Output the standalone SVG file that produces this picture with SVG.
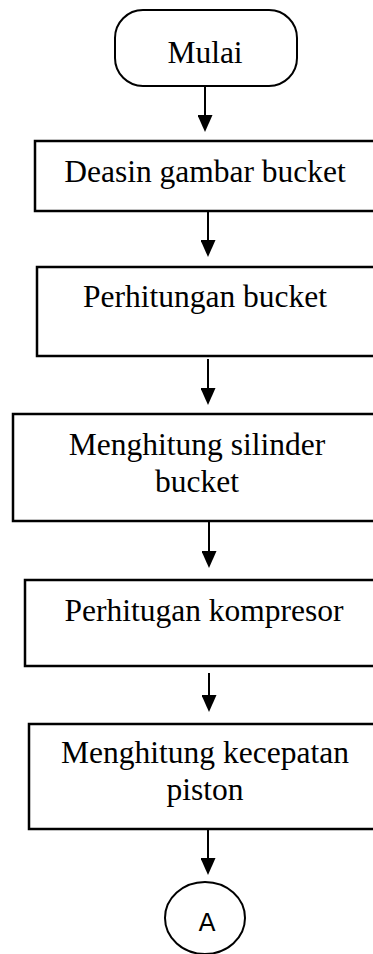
<svg xmlns="http://www.w3.org/2000/svg" width="373" height="954" viewBox="0 0 373 954">
  <style>
    .box { fill: #fff; stroke: #000; stroke-width: 2.5; }
    .term { fill: #fff; stroke: #000; stroke-width: 2; }
    .lbl { font-family: "Liberation Serif", "Times New Roman", serif; font-size: 31.5px; fill: #000; text-anchor: middle; }
    .conn { fill: #fff; stroke: #000; stroke-width: 2; }
    .clbl { font-family: "DejaVu Sans", sans-serif; font-size: 25px; fill: #000; text-anchor: middle; }
    .edge { stroke: #000; stroke-width: 2; fill: none; marker-end: url(#arrow); }
  </style>
  <defs>
    <!-- solid triangular head; the tip sits 8px past the line end -->
    <marker id="arrow" markerUnits="userSpaceOnUse" markerWidth="17" markerHeight="15" refX="9" refY="7.5" orient="auto" viewBox="0 0 17 15">
      <polygon points="0,0 17,7.5 0,15" fill="#000"/>
    </marker>
  </defs>
  <rect width="373" height="954" fill="#fff"/>

  <!-- flow connectors -->
  <g id="connectors">
    <line class="edge" x1="205" y1="86" x2="205" y2="124"/>
    <line class="edge" x1="208" y1="211" x2="208" y2="249"/>
    <line class="edge" x1="208" y1="359" x2="208" y2="397"/>
    <line class="edge" x1="209" y1="521" x2="209" y2="560"/>
    <line class="edge" x1="209" y1="673" x2="209" y2="704"/>
    <line class="edge" x1="208" y1="829" x2="208" y2="867"/>
  </g>

  <g id="mulai">
    <rect class="term" x="115" y="10" width="182" height="76" rx="28" ry="28"/>
    <text class="lbl" x="205" y="63">Mulai</text>
  </g>

  <g id="desain">
    <rect class="box" x="35" y="141" width="360" height="70"/>
    <text class="lbl" x="205" y="182">Deasin gambar bucket</text>
  </g>

  <g id="hitung-bucket">
    <rect class="box" x="37" y="267" width="360" height="89"/>
    <text class="lbl" x="205" y="307">Perhitungan bucket</text>
  </g>

  <g id="silinder">
    <rect class="box" x="13" y="414" width="380" height="107"/>
    <text class="lbl" x="197" y="455">Menghitung silinder</text>
    <text class="lbl" x="197" y="492">bucket</text>
  </g>

  <g id="kompresor">
    <rect class="box" x="25" y="580" width="370" height="86"/>
    <text class="lbl" x="204" y="621">Perhitugan kompresor</text>
  </g>

  <g id="kecepatan">
    <rect class="box" x="29" y="724" width="370" height="105"/>
    <text class="lbl" x="205" y="763">Menghitung kecepatan</text>
    <text class="lbl" x="205" y="800">piston</text>
  </g>

  <g id="konektor-a">
    <ellipse class="conn" cx="205" cy="918" rx="40" ry="36"/>
    <text class="clbl" x="207" y="931">A</text>
  </g>
</svg>
